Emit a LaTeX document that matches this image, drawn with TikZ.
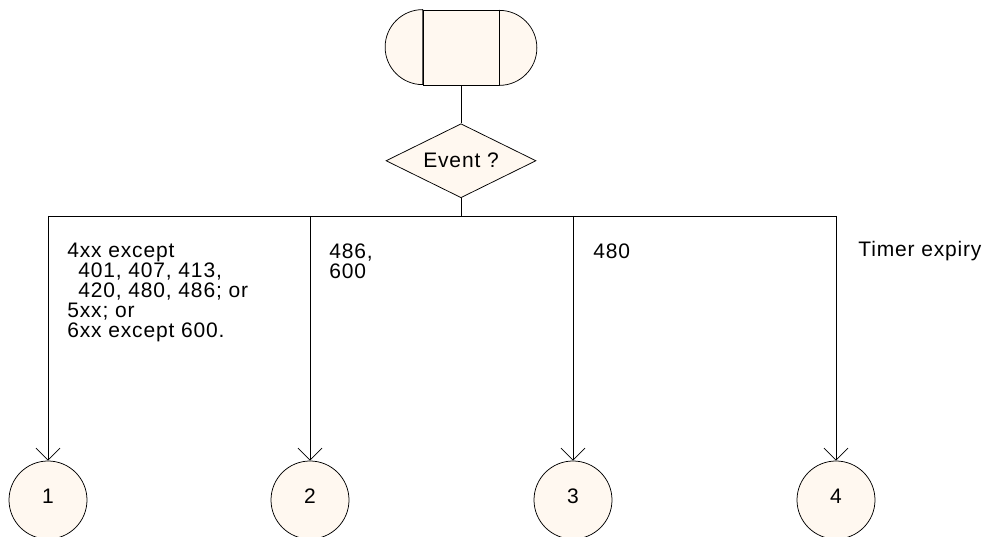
\documentclass[tikz,border=0pt]{standalone}
\usepackage{fontspec}
\setmainfont[LetterSpace=4]{Liberation Sans}
\usepackage{xcolor}
\usepackage{tikz}
\usetikzlibrary{positioning,arrows.meta,shapes.geometric}
\definecolor{cream}{RGB}{255,248,240}

\begin{document}
\begin{tikzpicture}[
    x = 1pt, y = 1pt,
    font = \fontsize{21}{20}\selectfont,
    state/.style = {draw, fill=cream, minimum width=76pt, minimum height=75pt, inner sep=0},
    decision/.style = {draw, fill=cream, diamond, aspect=2.03, minimum width=150pt, minimum height=74pt, inner sep=0},
    conn/.style = {draw, fill=cream, circle, minimum size=78pt, inner sep=0, text depth=8pt},
    lbl/.style = {anchor=north west, inner sep=0, align=left},
    line width = 0.75pt,
    > = {Straight Barb[length=12pt, width=24pt]}
]
\useasboundingbox (0,0) rectangle (985,537);
\node (st) [state] at (461,489.5) {};
\draw[fill=cream] (st.north west) arc[start angle=90, end angle=270, radius=37.5pt] -- cycle;
\draw[fill=cream] (st.south east) arc[start angle=-90, end angle=90, radius=37.5pt] -- cycle;
\node (ev) [decision, below=38pt of st] {Event ?};
\coordinate (j) at (461,321);

\node (c1) [conn] at (48,37) {1};
\node (c2) [conn] at (310,37) {2};
\node (c3) [conn] at (573,37) {3};
\node (c4) [conn] at (836,37) {4};

\coordinate (b1) at (c1 |- j);
\coordinate (b2) at (c2 |- j);
\coordinate (b3) at (c3 |- j);
\coordinate (b4) at (c4 |- j);

\node (l1) [lbl] at (67,294) {4xx except\\ \hspace*{11pt}401, 407, 413,\\ \hspace*{11pt}420, 480, 486; or\\ 5xx; or\\ 6xx except 600.};
\node (l2) [lbl] at (329,294) {486,\\ 600};
\node (l3) [lbl] at (593,294) {480};
\node (l4) [lbl] at (858,296) {Timer expiry};

\draw[-] (st) to (ev);
\draw[-] (ev) to (j);
\draw[-] (b1) to (b4);
\draw[->] (b1) to (c1);
\draw[->] (b2) to (c2);
\draw[->] (b3) to (c3);
\draw[->] (b4) to (c4);
\end{tikzpicture}
\end{document}
